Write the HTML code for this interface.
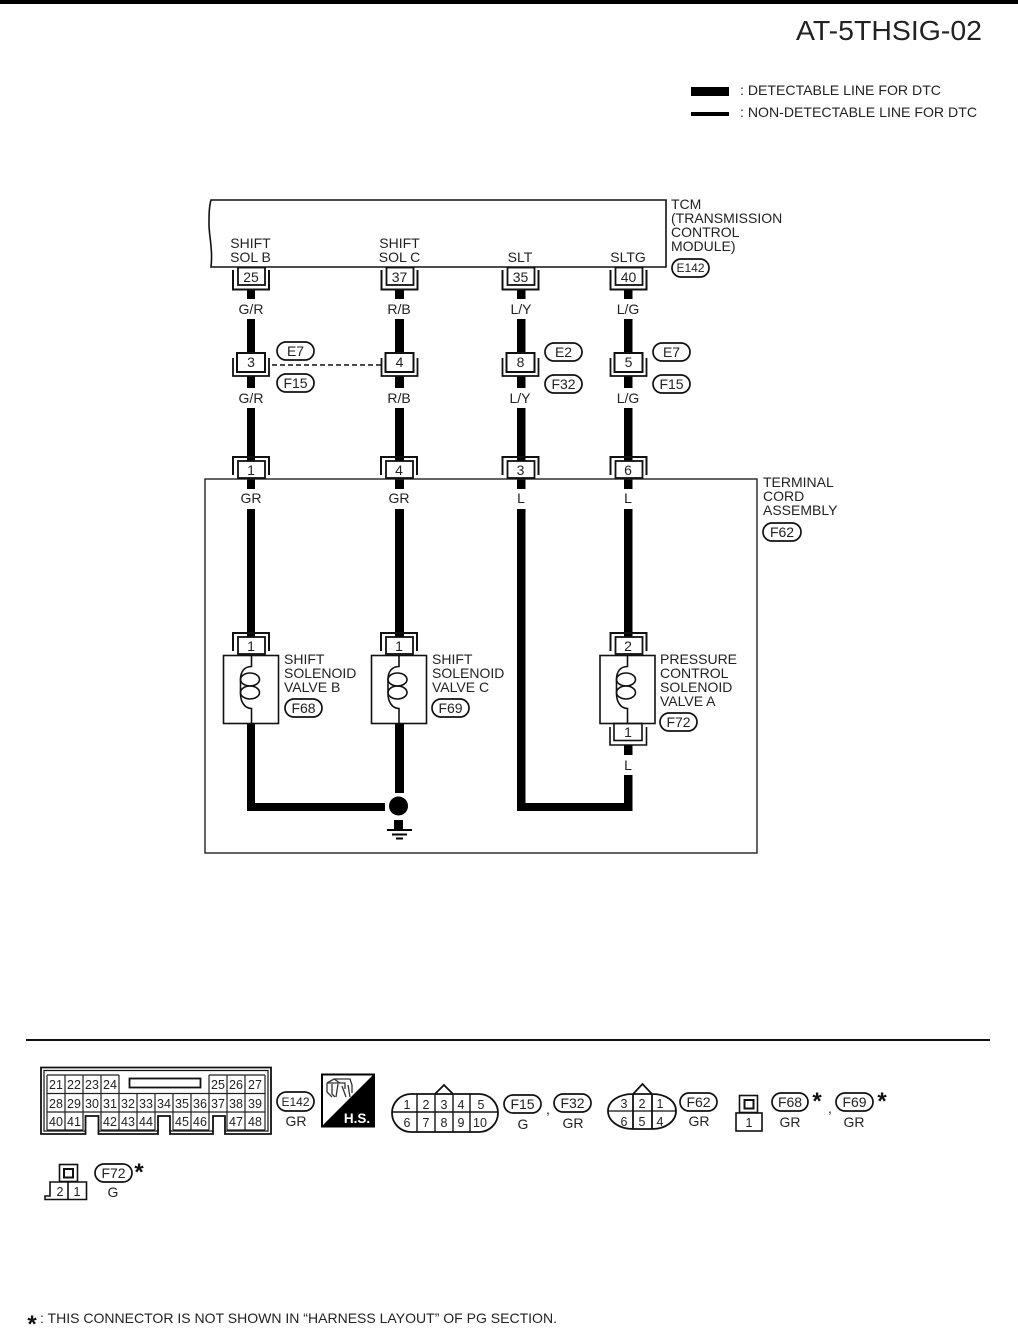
<!DOCTYPE html>
<html><head><meta charset="utf-8"><style>
html,body{margin:0;padding:0;background:#fff;width:1018px;height:1341px;overflow:hidden}
svg{display:block}
text{font-family:"Liberation Sans",sans-serif;font-size:14px;fill:#222}
.m{text-anchor:middle}
.t{fill:none;stroke:#111;stroke-width:1.6}
.p{fill:#fff;stroke:#111;stroke-width:1.7}
.n{font-size:12.5px}
.st{font-size:24px;font-weight:bold;fill:#111}
</style></head><body>
<svg width="1018" height="1341" viewBox="0 0 1018 1341" xmlns="http://www.w3.org/2000/svg">
<defs>
<g id="tc" class="t"><path d="M-18 80V99.500H18V80" stroke-width="2"/><rect x="-13" y="77.500" width="27" height="17.500" fill="#fff" stroke-width="1.800"/></g>
<g id="mc" class="t"><path d="M-18 168V186H18V168" stroke-width="1.800"/><rect x="-14" y="163" width="28" height="19" fill="#fff" stroke-width="2"/></g>
<g id="bc" class="t"><path d="M-18 285V267H18V285" stroke-width="2"/><rect x="-13" y="271" width="27" height="17" fill="#fff" stroke-width="1.800"/></g>
<g id="coil" class="t" stroke-width="1.500"><path d="M0 0V11C-7 11 -11 16 -11 24V38C-11 46 -7 53 0 53V68"/><ellipse cx="-1.500" cy="24" rx="9.500" ry="6.500"/><ellipse cx="-1.500" cy="37" rx="9.500" ry="6.500"/></g>
</defs>

<rect x="0" y="0" width="1018" height="4" fill="#000"/>
<text x="796" y="40" style="font-size:28px" textLength="186" lengthAdjust="spacingAndGlyphs">AT-5THSIG-02</text>
<rect x="691" y="87" width="38" height="9" fill="#000"/>
<rect x="691" y="112" width="38" height="4" fill="#000"/>
<text x="740" y="95" textLength="201" lengthAdjust="spacingAndGlyphs">: DETECTABLE LINE FOR DTC</text>
<text x="740" y="117" textLength="237" lengthAdjust="spacingAndGlyphs">: NON-DETECTABLE LINE FOR DTC</text>

<!-- TCM -->
<path class="t" d="M211 200H666V267H211C213 250 209 235 209 225C209 215 209 207 211 200Z"/>
<text class="m" x="250.500" y="248">SHIFT</text><text class="m" x="250.500" y="262">SOL B</text>
<text class="m" x="399.500" y="248">SHIFT</text><text class="m" x="399.500" y="262">SOL C</text>
<text class="m" x="520" y="262">SLT</text><text class="m" x="628" y="262">SLTG</text>
<text x="671" y="209">TCM</text><text x="671" y="223">(TRANSMISSION</text><text x="671" y="237">CONTROL</text><text x="671" y="251">MODULE)</text>
<rect class="p" x="672" y="259" width="37" height="18" rx="9"/><text class="m" x="690.500" y="272" style="font-size:12px">E142</text>

<!-- wires -->
<g fill="#000">
<rect x="247" y="289" width="8" height="10"/><rect x="395" y="289" width="9" height="10"/><rect x="517" y="289" width="8.500" height="10"/><rect x="624" y="289" width="8.500" height="10"/>
<rect x="247" y="319" width="8" height="35"/><rect x="395" y="319" width="9" height="35"/><rect x="517" y="319" width="8.500" height="35"/><rect x="624" y="319" width="8.500" height="35"/>
<rect x="247" y="376" width="8" height="12"/><rect x="395" y="376" width="9" height="12"/><rect x="517" y="376" width="8.500" height="12"/><rect x="624" y="376" width="8.500" height="12"/>
<rect x="247" y="408" width="8" height="54"/><rect x="395" y="408" width="9" height="54"/><rect x="517" y="408" width="8.500" height="54"/><rect x="624" y="408" width="8.500" height="54"/>
<rect x="247" y="478" width="8" height="11"/><rect x="395" y="478" width="9" height="11"/><rect x="517" y="478" width="8.500" height="11"/><rect x="624" y="478" width="8.500" height="11"/>
<rect x="247" y="509" width="8" height="129"/><rect x="395" y="509" width="9" height="129"/><rect x="517" y="509" width="8.500" height="302"/><rect x="624" y="509" width="8.500" height="129"/>
<rect x="247" y="723" width="8" height="88"/><rect x="247" y="803" width="138" height="8"/>
<rect x="395" y="723" width="9" height="70"/><circle cx="398.500" cy="806" r="9.500"/>
<rect x="394" y="820" width="9" height="10"/><rect x="387" y="829" width="25" height="2"/><rect x="392" y="833.500" width="15" height="2"/><rect x="396" y="837.500" width="7" height="2"/>
<rect x="624" y="745" width="8.500" height="10"/><rect x="624" y="775" width="8.500" height="36"/><rect x="517" y="803" width="115.500" height="8"/>
</g>

<!-- terminal box -->
<rect x="205" y="479" width="552" height="374" fill="none" stroke="#222" stroke-width="1.400"/>
<text x="763" y="487">TERMINAL</text><text x="763" y="501">CORD</text><text x="763" y="515">ASSEMBLY</text>
<rect class="p" x="763" y="523" width="38" height="18" rx="9"/><text class="m" x="782" y="537">F62</text>

<!-- top connectors -->
<g transform="translate(251,190)"><use href="#tc"/></g><g transform="translate(399.500,190)"><use href="#tc"/></g><g transform="translate(520.500,190)"><use href="#tc"/></g><g transform="translate(628.500,190)"><use href="#tc"/></g>
<text class="m" x="251" y="282">25</text><text class="m" x="399.500" y="282">37</text><text class="m" x="520.500" y="282">35</text><text class="m" x="628.500" y="282">40</text>
<text class="m" x="251" y="314">G/R</text><text class="m" x="399" y="314">R/B</text><text class="m" x="521" y="314">L/Y</text><text class="m" x="628" y="314">L/G</text>

<!-- mid connectors -->
<g transform="translate(251,190)"><use href="#mc"/></g><g transform="translate(399.500,190)"><use href="#mc"/></g><g transform="translate(520.500,190)"><use href="#mc"/></g><g transform="translate(628.500,190)"><use href="#mc"/></g>
<text class="m" x="251" y="367">3</text><text class="m" x="399.500" y="367">4</text><text class="m" x="520.500" y="367">8</text><text class="m" x="628.500" y="367">5</text>
<path d="M272 365H384" stroke="#111" stroke-width="1.500" stroke-dasharray="5 3" fill="none"/>
<rect class="p" x="277" y="342" width="37" height="18" rx="9"/><text class="m" x="295.500" y="356">E7</text>
<rect class="p" x="277" y="374" width="37" height="18" rx="9"/><text class="m" x="295.500" y="388">F15</text>
<rect class="p" x="545" y="343" width="37" height="18" rx="9"/><text class="m" x="563.500" y="357">E2</text>
<rect class="p" x="545" y="375" width="37" height="18" rx="9"/><text class="m" x="563.500" y="389">F32</text>
<rect class="p" x="653" y="343" width="37" height="18" rx="9"/><text class="m" x="671.500" y="357">E7</text>
<rect class="p" x="653" y="375" width="37" height="18" rx="9"/><text class="m" x="671.500" y="389">F15</text>
<text class="m" x="251" y="403">G/R</text><text class="m" x="399" y="403">R/B</text><text class="m" x="520" y="403">L/Y</text><text class="m" x="628" y="403">L/G</text>

<!-- terminal connectors -->
<g transform="translate(251,190)"><use href="#bc"/></g><g transform="translate(399,190)"><use href="#bc"/></g><g transform="translate(520.500,190)"><use href="#bc"/></g><g transform="translate(628.500,190)"><use href="#bc"/></g>
<text class="m" x="251" y="475">1</text><text class="m" x="399" y="475">4</text><text class="m" x="520.500" y="475">3</text><text class="m" x="628" y="475">6</text>
<text class="m" x="251" y="503">GR</text><text class="m" x="399" y="503">GR</text><text class="m" x="521" y="503">L</text><text class="m" x="628" y="503">L</text>

<!-- solenoid connectors -->
<g transform="translate(251,366)"><use href="#bc"/></g><g transform="translate(399,366)"><use href="#bc"/></g><g transform="translate(628.500,366)"><use href="#bc"/></g>
<text class="m" x="251" y="651">1</text><text class="m" x="399" y="651">1</text><text class="m" x="628" y="651">2</text>
<rect class="t" x="223.500" y="655.500" width="55" height="68" fill="#fff"/><rect class="t" x="371.500" y="655.500" width="55" height="68" fill="#fff"/><rect class="t" x="600" y="655.500" width="55" height="68" fill="#fff"/>
<g transform="translate(251.500,655.500)"><use href="#coil"/></g><g transform="translate(399,655.500)"><use href="#coil"/></g><g transform="translate(627.500,655.500)"><use href="#coil"/></g>
<text x="284" y="664">SHIFT</text><text x="284" y="678">SOLENOID</text><text x="284" y="692">VALVE B</text>
<rect class="p" x="285" y="699" width="37" height="18" rx="9"/><text class="m" x="303.500" y="713">F68</text>
<text x="432" y="664">SHIFT</text><text x="432" y="678">SOLENOID</text><text x="432" y="692">VALVE C</text>
<rect class="p" x="432" y="699" width="37" height="18" rx="9"/><text class="m" x="450.500" y="713">F69</text>
<text x="660" y="664">PRESSURE</text><text x="660" y="678">CONTROL</text><text x="660" y="692">SOLENOID</text><text x="660" y="706">VALVE A</text>
<rect class="p" x="660" y="713" width="37" height="18" rx="9"/><text class="m" x="678.500" y="727">F72</text>
<path class="t" d="M610 727V745H646.500V727" stroke-width="2"/><rect class="t" x="614" y="723.500" width="28" height="17" fill="#fff"/>
<text class="m" x="628" y="737">1</text><text class="m" x="628" y="770">L</text>

<!-- separator -->
<rect x="26" y="1039" width="964" height="2" fill="#111"/>

<!-- E142 connector -->
<path d="M41 1067.500H271V1134H225V1116H213V1134H170V1116H158V1134H98.500V1116H85.500V1134H41Z" fill="#fff" stroke="#111" stroke-width="1.800"/>
<path d="M85.500 1131H44V1070.500H268V1131H225M213 1131H170M158 1131H98.500" fill="none" stroke="#111" stroke-width="1.200"/>
<g fill="none" stroke="#222" stroke-width="1.200">
<path d="M47 1075H119M209 1075H265M47 1093.500H265M47 1112H265M47 1130H83M101 1130H155M173 1130H209M227 1130H265"/>
<path d="M47 1075V1130M65 1075V1130M83 1075V1130M101 1075V1130M119 1075V1130M137 1093.500V1130M155 1093.500V1130M173 1093.500V1130M191 1093.500V1130M209 1075V1130M227 1075V1130M245 1075V1130M265 1075V1130"/>
</g>
<rect x="129.500" y="1078.500" width="71" height="9" fill="#fff" stroke="#111" stroke-width="1.800"/>
<text x="56" y="1089" class="m n">21</text><text x="74" y="1089" class="m n">22</text><text x="92" y="1089" class="m n">23</text><text x="110" y="1089" class="m n">24</text><text x="218" y="1089" class="m n">25</text><text x="236" y="1089" class="m n">26</text><text x="255" y="1089" class="m n">27</text>
<text x="56" y="1108" class="m n">28</text><text x="74" y="1108" class="m n">29</text><text x="92" y="1108" class="m n">30</text><text x="110" y="1108" class="m n">31</text><text x="128" y="1108" class="m n">32</text><text x="146" y="1108" class="m n">33</text><text x="164" y="1108" class="m n">34</text><text x="182" y="1108" class="m n">35</text><text x="200" y="1108" class="m n">36</text><text x="218" y="1108" class="m n">37</text><text x="236" y="1108" class="m n">38</text><text x="255" y="1108" class="m n">39</text>
<text x="56" y="1126" class="m n">40</text><text x="74" y="1126" class="m n">41</text><text x="110" y="1126" class="m n">42</text><text x="128" y="1126" class="m n">43</text><text x="146" y="1126" class="m n">44</text><text x="182" y="1126" class="m n">45</text><text x="200" y="1126" class="m n">46</text><text x="236" y="1126" class="m n">47</text><text x="255" y="1126" class="m n">48</text>
<rect class="p" x="277" y="1092" width="37" height="19" rx="9.500"/><text class="m" x="295.500" y="1106" style="font-size:12px">E142</text>
<text class="m" x="296" y="1126">GR</text>

<!-- HS -->
<rect x="322" y="1074.500" width="52" height="52" fill="#fff" stroke="#000" stroke-width="2"/>
<path d="M374 1074V1127H321Z" fill="#000"/>
<path d="M327 1083L334 1079H350L352 1085V1093M327 1083H345V1089M327 1083V1092L332 1097M332 1084V1094L335 1097M338 1084L336 1097M342 1086L346 1097M348 1085L350 1097M334 1079L340 1083" fill="none" stroke="#333" stroke-width="1.300"/>
<text class="m" x="357" y="1123" style="font-size:13.500px;fill:#fff;font-weight:bold">H.S.</text>

<!-- F15 connector -->
<path d="M411 1094H479A19 19 0 0 1 479 1132H411A19 19 0 0 1 411 1094ZM435 1094L444 1085L453 1094" fill="none" stroke="#111" stroke-width="1.800"/>
<path d="M392 1112H498M417 1094V1132M435 1094V1132M453 1094V1132M470 1094V1132" fill="none" stroke="#111" stroke-width="1.400"/>
<text class="m n" x="407" y="1109">1</text><text class="m n" x="426" y="1109">2</text><text class="m n" x="444" y="1109">3</text><text class="m n" x="461" y="1109">4</text><text class="m n" x="481" y="1109">5</text>
<text class="m n" x="407" y="1127">6</text><text class="m n" x="426" y="1127">7</text><text class="m n" x="444" y="1127">8</text><text class="m n" x="461" y="1127">9</text><text class="m n" x="480" y="1127">10</text>
<rect class="p" x="504" y="1095" width="37" height="18" rx="9"/><text class="m" x="522.500" y="1109">F15</text><text class="m" x="523" y="1129">G</text>
<text class="m" x="548" y="1114">,</text>
<rect class="p" x="554" y="1094" width="37" height="18" rx="9"/><text class="m" x="572.500" y="1108">F32</text><text class="m" x="573" y="1128">GR</text>

<!-- F62 connector -->
<path d="M633 1094H652C666 1094 676 1101 676 1111C676 1121 666 1129 652 1129H633C619 1129 608 1121 608 1111C608 1101 619 1094 633 1094ZM633 1094L642.500 1084L652 1094M633 1094V1129M652 1094V1129" fill="none" stroke="#111" stroke-width="1.800"/>
<path d="M608 1111H676" stroke="#111" stroke-width="1.200"/>
<text class="m n" x="624" y="1108">3</text><text class="m n" x="642" y="1108">2</text><text class="m n" x="660" y="1108">1</text>
<text class="m n" x="624" y="1126">6</text><text class="m n" x="642" y="1126">5</text><text class="m n" x="660" y="1126">4</text>
<rect class="p" x="680" y="1093" width="37" height="18" rx="9"/><text class="m" x="698.500" y="1107">F62</text><text class="m" x="699" y="1126">GR</text>

<!-- F68/F69 connector -->
<rect class="t" x="739.500" y="1095.500" width="18" height="17"/><rect x="744.500" y="1100" width="9" height="8.500" fill="none" stroke="#111" stroke-width="2"/>
<rect class="t" x="736" y="1113" width="26" height="18"/><text class="m n" x="749" y="1127">1</text>
<rect class="p" x="772" y="1093" width="36" height="18" rx="9"/><text class="m" x="790" y="1107">F68</text><text class="m" x="790" y="1127">GR</text>
<text class="m st" x="817" y="1109">*</text><text class="m" x="830" y="1113">,</text>
<rect class="p" x="836" y="1093" width="37" height="18" rx="9"/><text class="m" x="854.500" y="1107">F69</text><text class="m" x="854" y="1127">GR</text>
<text class="m st" x="882" y="1109">*</text>

<!-- F72 connector -->
<rect class="t" x="59.500" y="1164.500" width="18" height="17"/><rect x="64" y="1169" width="9" height="8.500" fill="none" stroke="#111" stroke-width="2"/>
<path class="t" d="M45 1199.500V1196H50V1182H86.500V1199.500ZM68 1182V1199.500"/>
<text class="m n" x="60" y="1196">2</text><text class="m n" x="77" y="1196">1</text>
<rect class="p" x="95" y="1164" width="37" height="18" rx="9"/><text class="m" x="113.500" y="1178">F72</text><text class="m" x="113" y="1197">G</text>
<text class="m st" x="139" y="1180">*</text>

<!-- footer -->
<text class="m st" x="32" y="1332">*</text>
<text x="40" y="1323" textLength="517" lengthAdjust="spacingAndGlyphs">: THIS CONNECTOR IS NOT SHOWN IN “HARNESS LAYOUT” OF PG SECTION.</text>
</svg>
</body></html>
